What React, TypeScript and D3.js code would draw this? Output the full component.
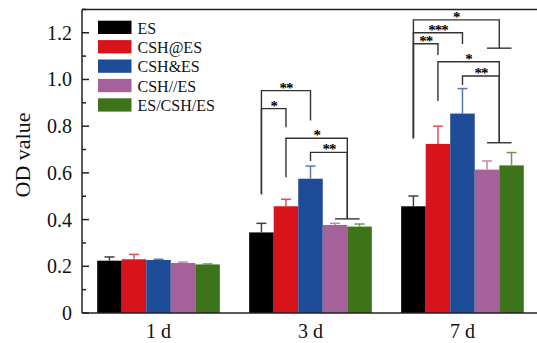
import React from "react";
import * as d3 from "d3";

// groups (time points) and series
const days = ["1 d", "3 d", "7 d"];
const series = ["ES", "CSH@ES", "CSH&ES", "CSH//ES", "ES/CSH/ES"];
const colors = ["#000000", "#d7141c", "#1f4c98", "#a4619a", "#3d7419"];

// mean OD values per series (1 d, 3 d, 7 d)
const esMean = [0.224, 0.345, 0.457];
const cshAtMean = [0.23, 0.457, 0.724];
const cshAndMean = [0.227, 0.575, 0.854];
const cshSlashMean = [0.214, 0.377, 0.614];
const sandwichMean = [0.208, 0.37, 0.632];

// standard deviations (upper whisker only)
const esErr = [0.016, 0.039, 0.044];
const cshAtErr = [0.021, 0.03, 0.076];
const cshAndErr = [0.003, 0.054, 0.107];
const cshSlashErr = [0.004, 0.007, 0.037];
const sandwichErr = [0.002, 0.011, 0.055];

const means = [esMean, cshAtMean, cshAndMean, cshSlashMean, sandwichMean];
const errs = [esErr, cshAtErr, cshAndErr, cshSlashErr, sandwichErr];

const yTickValues = [0, 0.2, 0.4, 0.6, 0.8, 1.0, 1.2];

// significance brackets: day index, left/right series position (3.5 = CSH//ES + ES/CSH/ES pair),
// bracket level and where each leg stops (all in OD units)
const brackets = [
  { day: 1, a: 0, b: 2, level: 0.952, aEnd: 0.508, bEnd: 0.824, label: "**" },
  { day: 1, a: 0, b: 1, level: 0.875, aEnd: 0.508, bEnd: 0.795, label: "*" },
  { day: 1, a: 1, b: 3.5, level: 0.748, aEnd: 0.581, bEnd: 0.403, label: "*" },
  { day: 1, a: 2, b: 3.5, level: 0.688, aEnd: 0.651, bEnd: 0.403, label: "**" },
  { day: 2, a: 0, b: 3.5, level: 1.255, aEnd: 0.748, bEnd: 1.134, label: "*" },
  { day: 2, a: 0, b: 2, level: 1.2, aEnd: 0.748, bEnd: 1.152, label: "***" },
  { day: 2, a: 0, b: 1, level: 1.153, aEnd: 0.748, bEnd: 1.105, label: "**" },
  { day: 2, a: 1, b: 3.5, level: 1.076, aEnd: 0.908, bEnd: 0.729, label: "*" },
  { day: 2, a: 2, b: 3.5, level: 1.015, aEnd: 0.976, bEnd: 0.729, label: "**" },
];
// short bars joining the CSH//ES and ES/CSH/ES columns
const pairBars = [
  { day: 1, level: 0.403 },
  { day: 2, level: 1.134 },
  { day: 2, level: 0.729 },
];

const W = 537;
const H = 343;
const margin = { top: 9.4, right: -2, bottom: 30, left: 82 };
const font = "'Liberation Serif', 'Times New Roman', serif";
const lineColor = "#333";

const App = () => {
  const x0 = d3
    .scaleBand()
    .domain(days)
    .range([margin.left, W - margin.right])
    .paddingInner(0.193)
    .paddingOuter(0.1);
  const x1 = d3
    .scaleBand<number>()
    .domain(d3.range(series.length))
    .range([0, x0.bandwidth()]);
  const y = d3
    .scaleLinear()
    .domain([0, 1.3])
    .range([H - margin.bottom, margin.top]);

  // centre of a series column (fractional index allowed)
  const cx = (day: number, s: number) =>
    (x0(days[day]) as number) + x1.step() * (s + 0.5);

  const minorTicks = y.ticks(13).filter((t) => !yTickValues.some((v) => Math.abs(v - t) < 1e-6));
  const x0px = margin.left;
  const yBottom = y(0);

  return (
    <svg
      width={W}
      height={H}
      style={{ position: "fixed", left: 0, top: 0, background: "#fff" }}
      fontFamily={font}
    >
      {/* bars */}
      {days.map((d, di) =>
        series.map((s, si) => {
          const bx = (x0(d) as number) + (x1(si) as number);
          const top = y(means[si][di]);
          const c = colors[si];
          const light = d3.interpolateRgb(c, "#fff")(0.25);
          const ex = bx + x1.bandwidth() / 2;
          const et = y(means[si][di] + errs[si][di]);
          return (
            <g key={d + s}>
              <rect
                x={bx}
                y={top}
                width={x1.bandwidth()}
                height={yBottom - top}
                fill={c}
              />
              <line x1={ex} x2={ex} y1={top} y2={et} stroke={light} strokeWidth={1.5} />
              <line x1={ex - 5} x2={ex + 5} y1={et} y2={et} stroke={light} strokeWidth={1.5} />
            </g>
          );
        })
      )}

      {/* significance brackets */}
      <g stroke={lineColor} strokeWidth={1.4} fill="none">
        {brackets.map((b, i) => {
          const xa = cx(b.day, b.a);
          const xb = cx(b.day, b.b);
          const ly = y(b.level);
          return (
            <path
              key={i}
              d={`M${xa},${y(b.aEnd)}V${ly}H${xb}V${y(b.bEnd)}`}
            />
          );
        })}
        {pairBars.map((p, i) => (
          <line
            key={i}
            x1={cx(p.day, 3)}
            x2={cx(p.day, 4)}
            y1={y(p.level)}
            y2={y(p.level)}
          />
        ))}
      </g>
      {brackets.map((b, i) => (
        <text
          key={i}
          x={(cx(b.day, b.a) + cx(b.day, b.b)) / 2}
          y={y(b.level) + 2}
          textAnchor="middle"
          fontSize={15}
          fontWeight="bold"
          letterSpacing={-1}
          fill="#000"
        >
          {b.label}
        </text>
      ))}

      {/* axes frame */}
      <g stroke="#222" strokeWidth={1.5} fill="none">
        <line x1={x0px} x2={x0px} y1={y(1.3)} y2={yBottom} />
        <line x1={x0px} x2={W} y1={yBottom} y2={yBottom} />
        <line x1={x0px} x2={W} y1={y(1.3)} y2={y(1.3)} />
        {yTickValues.map((t) => (
          <line key={t} x1={x0px} x2={x0px + 7} y1={y(t)} y2={y(t)} />
        ))}
        {minorTicks.map((t) => (
          <line key={t} x1={x0px} x2={x0px + 4} y1={y(t)} y2={y(t)} />
        ))}
      </g>
      {yTickValues.map((t) => (
        <text
          key={t}
          x={72}
          y={y(t)}
          dy="0.35em"
          textAnchor="end"
          fontSize={20}
          fill="#111"
        >
          {t === 0 ? "0" : d3.format(".1f")(t)}
        </text>
      ))}
      {days.map((d) => (
        <text
          key={d}
          x={(x0(d) as number) + x0.bandwidth() / 2}
          y={338}
          textAnchor="middle"
          fontSize={20}
          fill="#111"
        >
          {d}
        </text>
      ))}
      <text
        transform={`translate(30,155) rotate(-90)`}
        textAnchor="middle"
        fontSize={22}
        fill="#111"
      >
        OD value
      </text>

      {/* legend */}
      {series.map((s, i) => (
        <g key={s} transform={`translate(98,${20.7 + i * 19.4})`}>
          <rect width={33.5} height={13.3} fill={colors[i]} />
          <text x={39.5} y={12.8} fontSize={16} fill="#111">
            {s}
          </text>
        </g>
      ))}
    </svg>
  );
};

export default App;
